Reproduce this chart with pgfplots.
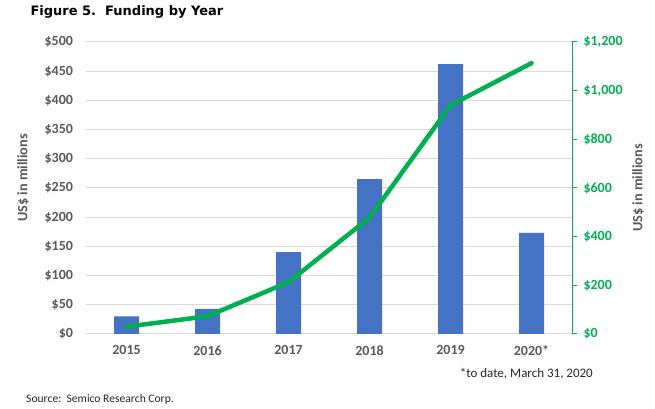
\documentclass[border=0pt]{standalone}
\usepackage{fontspec}
\setmainfont{Carlito}
\newfontfamily\titlefont{DejaVu Sans}
\usepackage{pgfplots}
\pgfplotsset{compat=1.18}
\definecolor{barc}{HTML}{4472C4}
\definecolor{grn}{HTML}{00B050}
\definecolor{txt}{HTML}{595959}
\definecolor{grd}{HTML}{D9D9D9}
\begin{document}
\begin{tikzpicture}[x=1pt,y=1pt]
\useasboundingbox (0,0) rectangle (655,409);
\begin{axis}[
  at={(86pt,75pt)}, anchor=south west, scale only axis,
  width=486pt, height=292pt,
  xmin=-0.5, xmax=5.5, ymin=0, ymax=500,
  xtick={0,...,5}, xticklabels={2015,2016,2017,2018,2019,2020*},
  ytick={0,50,...,500},
  ymajorgrids, grid style={grd, line width=1pt},
  axis line style={draw=none},
  major tick length=0pt,
  /pgf/number format/assume math mode=true,
  yticklabel={\$\pgfmathprintnumber{\tick}},
  ticklabel style={font=\bfseries\fontsize{14}{14}\selectfont, text=txt},
  yticklabel style={xshift=-9.5pt},
  xticklabel style={yshift=-8pt},
]
\addplot[ybar, fill=barc, draw=none, bar width=25pt] coordinates {
(0,30) (1,43) (2,140) (3,265) (4,462) (5,173)};
\end{axis}
\begin{axis}[
  at={(86pt,75pt)}, anchor=south west, scale only axis,
  width=486pt, height=292pt,
  xmin=-0.5, xmax=5.5, ymin=0, ymax=1200,
  axis x line=none, axis y line*=right,
  y axis line style={grn, line width=1pt, -},
  ytick={0,200,...,1200},
  tick align=outside, major tick length=5pt,
  ytick style={grn, line width=1pt},
  /pgf/number format/assume math mode=true,
  /pgf/number format/1000 sep={,},
  yticklabel={\$\pgfmathprintnumber{\tick}},
  yticklabel style={font=\bfseries\fontsize{14}{14}\selectfont, text=grn, xshift=3pt},
]
\addplot[grn, line width=4.5pt, line join=round, line cap=round] coordinates {
(0,30) (1,73) (2,213) (3,478) (4,940) (5,1113)};
\end{axis}
\node[anchor=base west, font=\titlefont\bfseries\fontsize{13}{13}\selectfont] at (27,393) {Figure 5.\ \ Funding by Year};
\node[rotate=90, font=\bfseries\fontsize{14.3}{14}\selectfont, text=txt] at (23,231) {US\$ in millions};
\node[rotate=90, font=\bfseries\fontsize{14.3}{14}\selectfont, text=txt] at (638,221) {US\$ in millions};
\node[anchor=base east, font=\fontsize{13}{13}\selectfont, text=black!85, inner sep=0pt] at (593,31) {*to date, March 31, 2020};
\node[anchor=base west, font=\fontsize{11.6}{12}\selectfont, text=black!85, inner sep=0pt] at (26,6) {Source:\ \ Semico Research Corp.};
\end{tikzpicture}
\end{document}
